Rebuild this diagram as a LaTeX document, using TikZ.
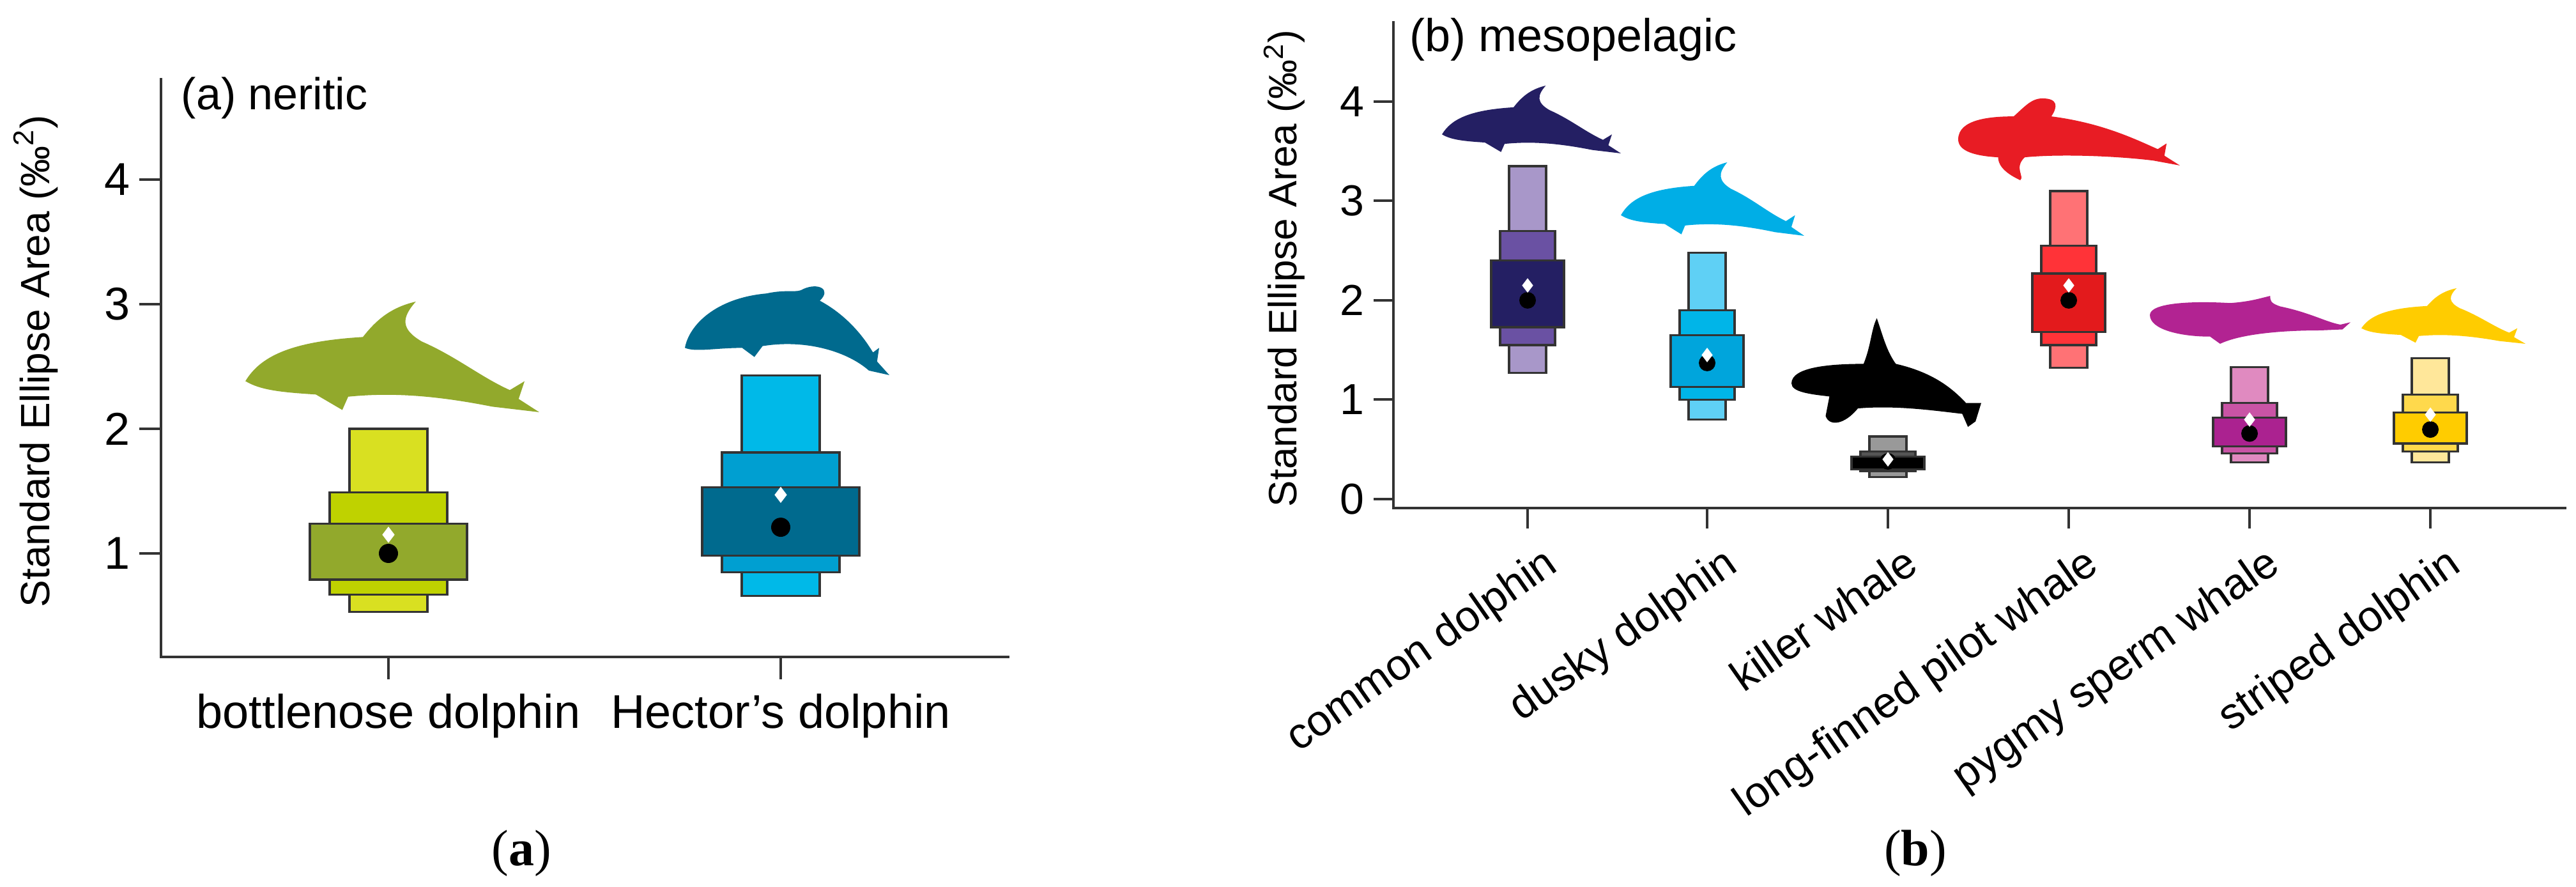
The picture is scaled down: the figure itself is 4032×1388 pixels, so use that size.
\documentclass[tikz,border=0pt]{standalone}
\usepackage{fontspec}
\setmainfont{Liberation Sans}
\newfontfamily\capfont{Liberation Serif}
\usetikzlibrary{shapes.geometric}
\begin{document}
\begin{tikzpicture}[x=0.25pt,y=-0.25pt,
  declare function={yA(\v)=1061-195*\v; yB(\v)=781-155.5*\v;},
  boxs/.style={draw=black!80,line width=0.8pt},
  ax/.style={line width=1pt,draw=black!80},
  dot/.style={circle,fill=black,inner sep=0pt,minimum size=#1},
  dia/.style={diamond,fill=white,inner sep=0pt,minimum width=#1,minimum height=1.3*#1},
  lab/.style={font=\fontsize{#1}{#1}\selectfont,inner sep=0pt},
  catlab/.style={font=\fontsize{17}{17}\selectfont,rotate=35,anchor=north east,inner sep=0pt}]
\useasboundingbox (0,0) rectangle (4032,1388);
% ---------- silhouette paths (unit box, y down) ----------
\def\dolphin{(0,0.72) .. controls (0.05,0.5) and (0.15,0.36) .. (0.4,0.32) .. controls (0.45,0.15) and (0.5,0.05) .. (0.58,0) .. controls (0.53,0.15) and (0.53,0.25) .. (0.6,0.36) .. controls (0.72,0.5) and (0.8,0.68) .. (0.9,0.8) -- (0.95,0.72) -- (0.93,0.88) -- (1,1) -- (0.84,0.95) .. controls (0.65,0.85) and (0.5,0.82) .. (0.35,0.86) -- (0.33,0.98) -- (0.24,0.84) .. controls (0.12,0.82) and (0.05,0.8) .. cycle}
\def\hector{(0,0.7) .. controls (0.02,0.45) and (0.15,0.15) .. (0.4,0.1) .. controls (0.5,0.05) and (0.55,0.1) .. (0.58,0.05) .. controls (0.65,-0.02) and (0.72,0.05) .. (0.66,0.18) .. controls (0.8,0.35) and (0.88,0.6) .. (0.92,0.75) -- (0.95,0.7) -- (0.94,0.85) -- (1,1) -- (0.9,0.95) .. controls (0.8,0.75) and (0.6,0.6) .. (0.38,0.68) -- (0.34,0.8) -- (0.28,0.7) .. controls (0.15,0.7) and (0.05,0.75) .. cycle}
\def\killer{(0,0.6) .. controls (0,0.45) and (0.2,0.42) .. (0.38,0.42) .. controls (0.42,0.25) and (0.42,0.1) .. (0.45,0) .. controls (0.48,0.15) and (0.5,0.3) .. (0.55,0.42) .. controls (0.75,0.5) and (0.85,0.65) .. (0.92,0.78) -- (1,0.78) -- (0.97,0.95) -- (0.93,1) -- (0.9,0.88) .. controls (0.75,0.85) and (0.55,0.8) .. (0.35,0.83) .. controls (0.28,0.98) and (0.2,1) .. (0.18,0.9) -- (0.2,0.72) .. controls (0.1,0.7) and (0,0.68) .. cycle}
\def\pilot{(0,0.5) .. controls (0,0.25) and (0.15,0.22) .. (0.25,0.22) .. controls (0.3,0.1) and (0.33,0) .. (0.38,0) .. controls (0.45,0) and (0.45,0.1) .. (0.42,0.22) .. controls (0.65,0.3) and (0.8,0.5) .. (0.9,0.62) -- (0.94,0.55) -- (0.93,0.7) -- (1,0.82) -- (0.88,0.76) .. controls (0.7,0.7) and (0.45,0.68) .. (0.3,0.72) .. controls (0.25,0.85) and (0.3,0.95) .. (0.28,1) .. controls (0.2,0.9) and (0.18,0.8) .. (0.18,0.72) .. controls (0.05,0.7) and (0,0.62) .. cycle}
\def\pygmy{(0,0.4) .. controls (0,0.15) and (0.2,0.1) .. (0.4,0.15) .. controls (0.5,0.12) and (0.55,0.05) .. (0.6,0) .. controls (0.6,0.1) and (0.6,0.15) .. (0.65,0.22) .. controls (0.8,0.35) and (0.88,0.55) .. (0.95,0.6) -- (1,0.55) -- (0.96,0.7) -- (0.85,0.72) .. controls (0.65,0.72) and (0.45,0.8) .. (0.35,1) -- (0.3,0.85) .. controls (0.15,0.85) and (0,0.7) .. cycle}
\newcommand\rb[6]{\draw[boxs,fill=#5] ({#1-#2},{#6(#3)}) rectangle ({#1+#2},{#6(#4)});}
% ================= panel (a) =================
\draw[ax] (252,122) -- (252,1028) -- (1580,1028);
\foreach \v in {1,2,3,4}{
  \draw[ax] (252,{yA(\v)}) -- (218,{yA(\v)});
  \node[lab=18,anchor=east] at (204,{yA(\v)}) {\v};}
\node[lab=16,rotate=90] (ylabA) at (56,565) {Standard Ellipse Area (‰\textsuperscript{2})};
\node[lab=17.5,anchor=west] (tA) at (283,153) {(a) neritic};
\foreach \xx/\t in {608/bottlenose dolphin,1222/Hector’s dolphin}{
  \draw[ax] (\xx,1028) -- (\xx,1063);
  \node[lab=18.5,anchor=north] at (\xx,1085) {\t};}
\fill[shift={(384,472)},xscale=460,yscale=173,fill={rgb,255:red,146;green,169;blue,44}] \dolphin;
\fill[shift={(1072,445)},xscale=320,yscale=142,fill={rgb,255:red,0;green,106;blue,142}] \hector;
\definecolor{ba1}{RGB}{217,224,33}\definecolor{ba2}{RGB}{191,210,0}\definecolor{ba3}{RGB}{146,169,44}
\definecolor{ha1}{RGB}{0,185,232}\definecolor{ha2}{RGB}{0,159,209}\definecolor{ha3}{RGB}{0,106,142}
\rb{608}{61}{0.53}{2.0}{ba1}{yA}\rb{608}{92}{0.67}{1.49}{ba2}{yA}\rb{608}{123}{0.79}{1.24}{ba3}{yA}
\node[dia=5pt] at (608,{yA(1.15)}) {};\node[dot=7.5pt] at (608,{yA(1.0)}) {};
\rb{1222}{61}{0.66}{2.43}{ha1}{yA}\rb{1222}{92}{0.85}{1.81}{ha2}{yA}\rb{1222}{123}{0.98}{1.53}{ha3}{yA}
\node[dia=5pt] at (1222,{yA(1.47)}) {};\node[dot=7.5pt] at (1222,{yA(1.21)}) {};
\node[font=\capfont\fontsize{20}{20}\selectfont,inner sep=0pt] (capA) at (816,1335) {(\textbf{a})};
% ================= panel (b) =================
\draw[ax] (2181,33) -- (2181,795) -- (4017,795);
\foreach \v in {0,1,2,3,4}{
  \draw[ax] (2181,{yB(\v)}) -- (2150,{yB(\v)});
  \node[lab=17,anchor=east] at (2136,{yB(\v)}) {\v};}
\node[lab=15.5,rotate=90] (ylabB) at (2010,420) {Standard Ellipse Area (‰\textsuperscript{2})};
\node[lab=18,anchor=west] (tB) at (2206,62) {(b) mesopelagic};
\foreach \xx/\t in {2391/common dolphin,2672/dusky dolphin,2955/killer whale,3238/long-finned pilot whale,3521/pygmy sperm whale,3804/striped dolphin}{
  \draw[ax] (\xx,795) -- (\xx,827);
  \node[catlab] at (\xx+22,850) {\t};}
\fill[shift={(2257,134)},xscale=280,yscale=106,fill={rgb,255:red,36;green,31;blue,99}] \dolphin;
\fill[shift={(2537,254)},xscale=287,yscale=115,fill={rgb,255:red,0;green,174;blue,230}] \dolphin;
\fill[shift={(2804,498)},xscale=297,yscale=170,fill=black] \killer;
\fill[shift={(3065,154)},xscale=347,yscale=128,fill={rgb,255:red,232;green,28;blue,36}] \pilot;
\fill[shift={(3365,463)},xscale=314,yscale=75,fill={rgb,255:red,178;green,35;blue,146}] \pygmy;
\fill[shift={(3696,451)},xscale=257,yscale=87,fill={rgb,255:red,255;green,204;blue,0}] \dolphin;
\definecolor{c1}{RGB}{168,151,201}\definecolor{c2}{RGB}{106,81,163}\definecolor{c3}{RGB}{36,31,99}
\definecolor{d1}{RGB}{95,208,245}\definecolor{d2}{RGB}{0,181,232}\definecolor{d3}{RGB}{0,165,220}
\definecolor{k1}{RGB}{153,153,153}\definecolor{k2}{RGB}{85,85,85}\definecolor{k3}{RGB}{0,0,0}
\definecolor{p1}{RGB}{255,114,117}\definecolor{p2}{RGB}{255,51,56}\definecolor{p3}{RGB}{227,26,28}
\definecolor{g1}{RGB}{224,138,192}\definecolor{g2}{RGB}{201,84,165}\definecolor{g3}{RGB}{171,34,144}
\definecolor{s1}{RGB}{255,231,154}\definecolor{s2}{RGB}{255,217,76}\definecolor{s3}{RGB}{255,204,0}
\foreach \xx/\ca/\cb/\cc/\la/\ha/\lb/\hb/\lc/\hc/\dm/\dd in {
 2391/c1/c2/c3/1.27/3.35/1.55/2.7/1.73/2.4/2.0/2.15,
 2672/d1/d2/d3/0.8/2.48/1.0/1.9/1.13/1.65/1.37/1.45,
 2955/k1/k2/k3/0.22/0.63/0.28/0.48/0.3/0.43/0.38/0.4,
 3238/p1/p2/p3/1.32/3.1/1.55/2.55/1.68/2.27/2.0/2.15,
 3521/g1/g2/g3/0.37/1.33/0.46/0.97/0.53/0.82/0.66/0.8,
 3804/s1/s2/s3/0.37/1.42/0.48/1.05/0.56/0.87/0.7/0.85}{
 \rb{\xx}{29}{\la}{\ha}{\ca}{yB}\rb{\xx}{43}{\lb}{\hb}{\cb}{yB}\rb{\xx}{57}{\lc}{\hc}{\cc}{yB}
 \node[dot=6.5pt] at (\xx,{yB(\dm)}) {};\node[dia=4.5pt] at (\xx,{yB(\dd)}) {};}
\node[font=\capfont\fontsize{20}{20}\selectfont,inner sep=0pt] (capB) at (2998,1335) {(\textbf{b})};
\end{tikzpicture}
\end{document}
